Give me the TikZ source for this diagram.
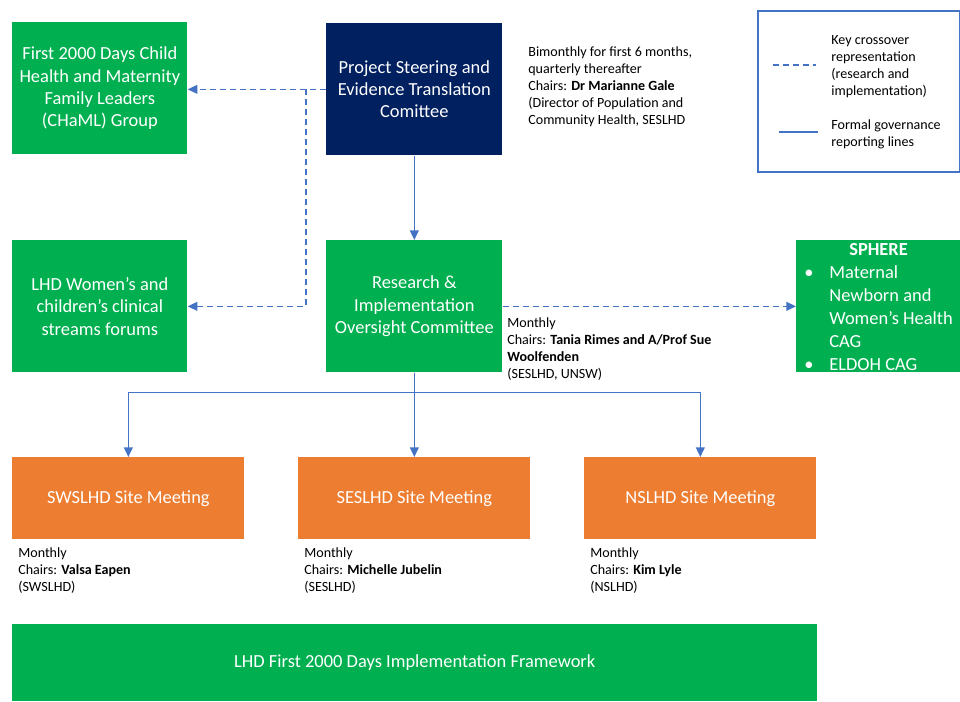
\documentclass[tikz,border=0pt]{standalone}
\usepackage{fontspec}
\setmainfont{Carlito}
\usepackage{xcolor}
\usepackage{tikz}
\usetikzlibrary{positioning}
\usetikzlibrary{arrows.meta}
\definecolor{govgreen}{HTML}{00B050}
\definecolor{govnavy}{HTML}{002060}
\definecolor{govorange}{HTML}{ED7D31}
\definecolor{govblue}{HTML}{4472C4}
\tikzstyle{box}=[rectangle,anchor=north west,text=white,align=center,inner sep=0pt,font=\fontsize{10.5}{12.7}\selectfont]
\tikzstyle{greenbox}=[box,fill=govgreen,minimum width=3.5cm,minimum height=2.64cm]
\tikzstyle{navybox}=[box,fill=govnavy,minimum width=3.52cm,minimum height=2.64cm]
\tikzstyle{sitebox}=[box,fill=govorange,minimum width=4.64cm,minimum height=1.64cm]
\tikzstyle{edge} = [draw,govblue,line width=0.85pt,-{Triangle[length=5.5pt,width=5pt]}]
\tikzstyle{crossedge} = [edge,dash pattern=on 3.4pt off 2.3pt]
\tikzstyle{note} = [anchor=north west,align=left,inner sep=0pt,font=\fontsize{8}{9.7}\selectfont]
\tikzset{keybox/.style={rectangle,draw=govblue,line width=1.4pt,anchor=north west,minimum width=4.04cm,minimum height=3.22cm}}

\begin{document}
\begin{tikzpicture}[x=0.02cm,y=-0.02cm]

 \useasboundingbox (0,0) rectangle (960,701);

 %Top row
 \node[greenbox] (chaml) at (12,22) {First 2000 Days Child\\Health and Maternity\\Family Leaders\\(CHaML) Group};
 \node[navybox] (steer) at (326,23) {Project Steering and\\Evidence Translation\\Comittee};
 \node[note] (steernote) at (528,46) {Bimonthly for first 6 months,\\quarterly thereafter\\Chairs: \textbf{Dr Marianne Gale}\\(Director of Population and\\Community Health, SESLHD};

 %Key
 \node[keybox] (key) at (757,10) {};
 \coordinate (dashA) at (773,65);
 \coordinate (dashB) at (816,65);
 \coordinate (lineA) at (779,132);
 \coordinate (lineB) at (818,132);
 \draw[govblue,line width=0.85pt,dash pattern=on 3.4pt off 2.3pt] (dashA) -- (dashB);
 \draw[govblue,line width=0.85pt] (lineA) -- (lineB);
 \node[note] (keydash) at (831,35) {Key crossover\\representation\\(research and\\implementation)};
 \node[note] (keyline) at (831,119) {Formal governance\\reporting lines};

 %Middle row
 \node[greenbox] (forums) at (12,240) {LHD Women's and\\children’s clinical\\streams forums};
 \node[greenbox,minimum width=3.52cm] (research) at (326,240) {Research \&\\Implementation\\Oversight Committee};
 \node[note] (researchnote) at (507,317) {Monthly\\Chairs: \textbf{Tania Rimes and A/Prof Sue}\\\textbf{Woolfenden}\\(SESLHD, UNSW)};
 \node[greenbox,minimum width=3.28cm] (sphere) at (796,240) {};
 \node[anchor=north west,inner sep=0pt,text=white,font=\fontsize{10.5}{13.1}\selectfont] (spheretext) at (804,239)
   {\begin{tabular}{@{}p{0.5cm}@{}l@{}}
    \multicolumn{2}{c}{\textbf{SPHERE}}\\
    \textbullet & Maternal\\
     & Newborn and\\
     & Women’s Health\\
     & CAG\\
    \textbullet & ELDOH CAG
   \end{tabular}};

 %Site meetings
 \foreach \x/\name/\label/\chair in {12/sws/SWSLHD/Valsa Eapen, 298/ses/SESLHD/Michelle Jubelin, 584/ns/NSLHD/Kim Lyle}
  {
   \node[sitebox] (\name) at (\x,457) {\label\ Site Meeting};
   \node[note] (\name note) at (\x+6,547) {Monthly\\Chairs: \textbf{\chair}\\(\label)};
  }

 %Framework
 \node[greenbox,minimum width=16.1cm,minimum height=1.54cm] (frame) at (12,624) {LHD First 2000 Days Implementation Framework};

 %Reporting lines
 \path[edge] (steer) -- (research);
 \foreach \dest in {sws,ses,ns}
   \path[edge] (research.south) -- ++(0,20) -| (\dest.north);

 %Crossover lines
 \coordinate (split) at (306,89);
 \path[crossedge] (steer.west) -- (chaml.east |- steer.west);
 \path[crossedge] (split) |- (forums.east);
 \path[crossedge] (research.east) -- (sphere.west);

\end{tikzpicture}
\end{document}
